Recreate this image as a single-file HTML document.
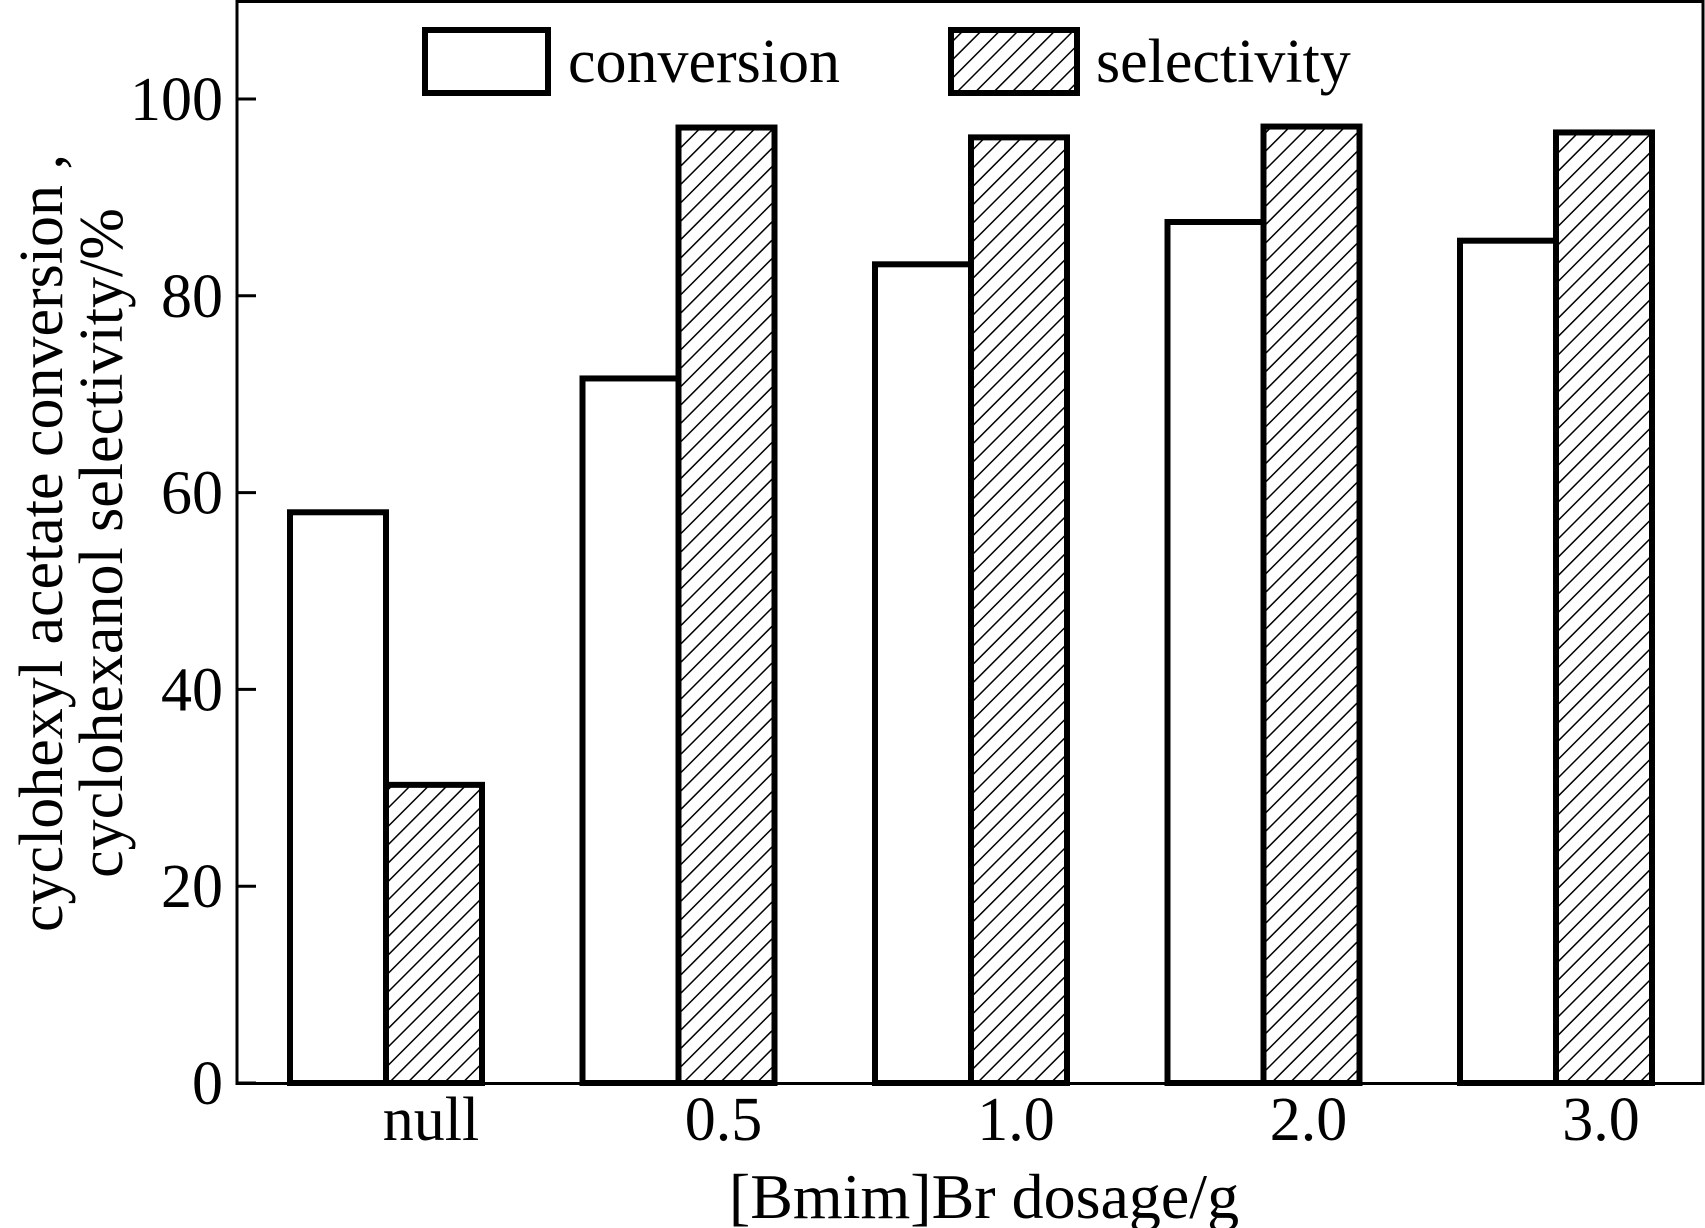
<!DOCTYPE html>
<html><head><meta charset="utf-8"><style>html,body{margin:0;padding:0;background:#fff}svg{display:block}</style></head>
<body>
<svg id="chart" width="1705" height="1228" xmlns="http://www.w3.org/2000/svg" font-family="'Liberation Serif', serif">
<defs>
<pattern id="hatch" patternUnits="userSpaceOnUse" width="13" height="13" patternTransform="rotate(45)">
<rect width="13" height="13" fill="#fff"/><line x1="0" y1="0" x2="0" y2="13" stroke="#000" stroke-width="3"/>
</pattern>
</defs>
<g id="marks"></g>
<rect x="237" y="1.5" width="1466" height="1082" fill="none" stroke="#000" stroke-width="3"/>
<g id="axes"></g>
<g>
<rect x="425" y="30" width="123" height="63" fill="#fff" stroke="#000" stroke-width="6"/>
<text x="568" y="82" font-size="62">conversion</text>
<rect x="951" y="30" width="126" height="63" fill="url(#hatch)" stroke="#000" stroke-width="6"/>
<text x="1096" y="82" font-size="62">selectivity</text>
</g>
<text x="984" y="1218" font-size="64" text-anchor="middle">[Bmim]Br dosage/g</text>
<g transform="translate(0,543) rotate(-90)" font-size="62" text-anchor="middle">
<text x="0" y="62">cyclohexyl acetate conversion ,</text>
<text x="0" y="122">cyclohexanol selectivity/%</text>
</g>
</svg>
<script>
const categories = ["null","0.5","1.0","2.0","3.0"];
const conversion = [58.0,71.6,83.2,87.5,85.6];
const selectivity = [30.3,97.1,96.1,97.2,96.6];
const yTicks = [0,20,40,60,80,100];

const NS="http://www.w3.org/2000/svg";
const y0=1083, yPerUnit=(1083-99)/100;
function yScale(v){return y0 - v*yPerUnit;}
function xGroup(i){return 290 + i*292.5;}
const barW=96;
const marks=document.getElementById('marks');
const axes=document.getElementById('axes');
function mk(tag,attrs,parent){const e=document.createElementNS(NS,tag);for(const k in attrs)e.setAttribute(k,attrs[k]);parent.appendChild(e);return e;}

categories.forEach((c,i)=>{
  const x=xGroup(i);
  const r1=mk('rect',{x:x,y:yScale(conversion[i]),width:barW,height:y0-yScale(conversion[i]),fill:'#fff',stroke:'#000','stroke-width':6},marks);
  
  
  const r2=mk('rect',{x:x+barW,y:yScale(selectivity[i]),width:barW,height:y0-yScale(selectivity[i]),fill:'url(#hatch)',stroke:'#000','stroke-width':6},marks);
  
  
  const t=mk('text',{x:x+barW+45,y:1140,'font-size':62,'text-anchor':'middle'},axes);
  t.textContent=c;
  
  
});
yTicks.forEach(v=>{
  const y=yScale(v);
  const l=mk('line',{x1:237,x2:256,y1:y,y2:y,stroke:'#000','stroke-width':3},axes);
  
  
  const t=mk('text',{x:223,y:y+21,'font-size':62,'text-anchor':'end'},axes);
  t.textContent=v;
  
  
});
</script>
</body></html>
